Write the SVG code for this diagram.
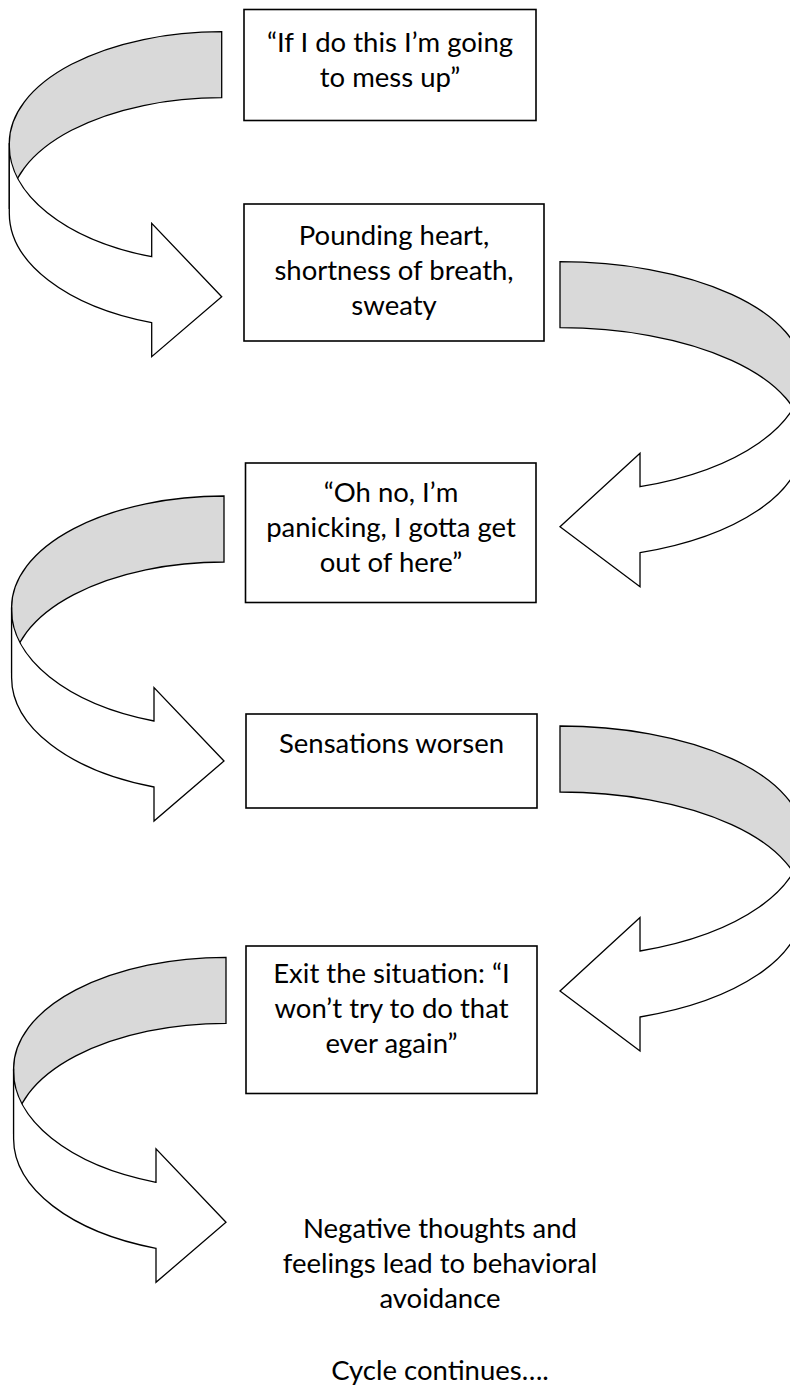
<svg xmlns="http://www.w3.org/2000/svg" xmlns:xlink="http://www.w3.org/1999/xlink" width="790" height="1387" viewBox="0 0 790 1387">
<style>
.box{fill:#fff;stroke:#000;stroke-width:1.6}
.txt{font-family:Lato,"Open Sans","Liberation Sans",sans-serif;font-size:27.5px;fill:#000;text-anchor:middle}
.band{fill:#d9d9d9;stroke:#000;stroke-width:1.3;stroke-linejoin:miter;vector-effect:non-scaling-stroke}
.front{fill:#fff;stroke:#000;stroke-width:1.3;stroke-linejoin:miter;vector-effect:non-scaling-stroke}
</style>
<defs>
<g id="curvedArrow">
<path class="band" d="M0,0 A212.4,111.3 0 0 0 -212.4,111.3 L-212.4,177.3 A212.4,111.3 0 0 1 0,66 Z"/>
<path class="front" d="M-212.4,111.3 A212.4,118 0 0 0 -70,225 L-70,191.6 L0,265 L-70,325 L-70,291 A212.4,116 0 0 1 -212.4,181.3 Z"/>
</g>
</defs>
<rect width="790" height="1387" fill="#fff"/>
<g id="connectors">
<use xlink:href="#curvedArrow" transform="translate(221.7,31.7)"/>
<use xlink:href="#curvedArrow" transform="translate(560,261.7) scale(-1.143,1)"/>
<use xlink:href="#curvedArrow" transform="translate(224,496)"/>
<use xlink:href="#curvedArrow" transform="translate(560,726) scale(-1.143,1)"/>
<use xlink:href="#curvedArrow" transform="translate(226,957.3)"/>
</g>
<g id="node1">
<rect class="box" x="244" y="9.5" width="292" height="111"/>
<text class="txt" x="390" y="52">“If I do this I’m going</text>
<text class="txt" x="390" y="87">to mess up”</text>
</g>
<g id="node2">
<rect class="box" x="244" y="204" width="300" height="137"/>
<text class="txt" x="394" y="245">Pounding heart,</text>
<text class="txt" x="394" y="280">shortness of breath,</text>
<text class="txt" x="394" y="315">sweaty</text>
</g>
<g id="node3">
<rect class="box" x="245.5" y="463" width="290.5" height="139.5"/>
<text class="txt" x="391" y="502">“Oh no, I’m</text>
<text class="txt" x="391" y="537">panicking, I gotta get</text>
<text class="txt" x="391" y="572">out of here”</text>
</g>
<g id="node4">
<rect class="box" x="246" y="714" width="291" height="94"/>
<text class="txt" x="391.5" y="753">Sensations worsen</text>
</g>
<g id="node5">
<rect class="box" x="246" y="946" width="291" height="147.5"/>
<text class="txt" x="391.5" y="983">Exit the situation: “I</text>
<text class="txt" x="391.5" y="1018">won’t try to do that</text>
<text class="txt" x="391.5" y="1053">ever again”</text>
</g>
<g id="node6">
<text class="txt" x="440" y="1238">Negative thoughts and</text>
<text class="txt" x="440" y="1273">feelings lead to behavioral</text>
<text class="txt" x="440" y="1308">avoidance</text>
<text class="txt" x="440" y="1380">Cycle continues….</text>
</g>
</svg>
